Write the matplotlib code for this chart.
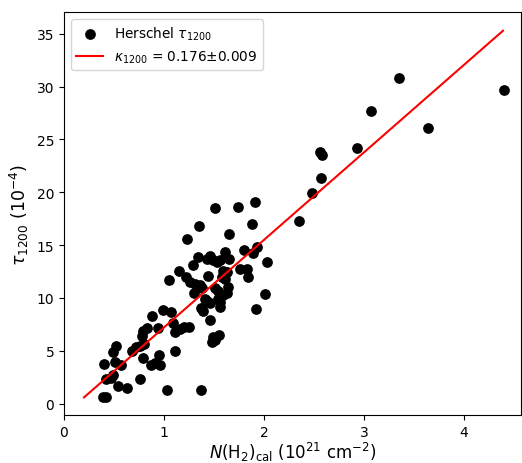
import numpy as np
import matplotlib
matplotlib.use('Agg')
import matplotlib.pyplot as plt

# N(H2)_cal in 1e21 cm^-2 and tau_1200 in 1e-4
nh2 = [0.39, 0.42, 0.54, 0.63, 0.76, 1.03, 1.37, 0.40, 0.42, 0.47,
       0.49, 0.49, 0.52, 0.51, 0.57, 0.68, 0.72, 0.76, 0.80, 0.79,
       0.87, 0.91, 0.96, 0.95, 1.11, 0.78, 0.79, 0.83, 0.88, 0.99,
       1.07, 0.94, 1.09, 1.11, 1.16, 1.20, 1.25, 1.05, 1.15, 1.22,
       1.26, 1.31, 1.30, 1.36, 1.38, 1.34, 1.43, 1.46, 1.49, 1.53,
       1.56, 1.61, 1.65, 1.29, 1.44, 1.51, 1.54, 1.64, 1.63, 1.59,
       1.76, 1.83, 1.84, 1.41, 1.37, 1.39, 1.43, 1.46, 1.46, 1.54,
       1.56, 1.56, 1.49, 1.51, 1.55, 1.48, 1.51, 1.74, 1.91, 1.35,
       1.23, 1.65, 1.88, 2.35, 1.80, 1.89, 1.93, 2.03, 1.59, 1.63,
       1.58, 1.61, 2.01, 1.92, 3.64, 2.56, 2.58, 2.93, 2.57, 2.48,
       3.07, 3.35, 4.40]
tau = [0.6, 0.6, 1.65, 1.5, 2.35, 1.25, 1.25, 3.75, 2.3, 2.4,
       2.7, 4.85, 5.45, 3.95, 3.7, 4.95, 5.4, 5.5, 5.65, 4.3,
       3.7, 3.85, 3.65, 4.65, 5.0, 6.4, 6.9, 7.15, 8.3, 8.9,
       8.7, 7.15, 7.65, 6.8, 7.1, 7.25, 7.25, 11.75, 12.6, 12.0,
       11.5, 11.3, 10.5, 11.2, 10.9, 13.85, 13.7, 14.0, 13.55, 13.4,
       13.55, 14.35, 13.65, 13.1, 12.1, 10.95, 10.7, 11.0, 10.5, 10.25,
       12.75, 12.75, 12.0, 9.9, 9.1, 8.75, 9.75, 9.5, 7.9, 9.95,
       9.6, 9.15, 6.3, 6.0, 6.5, 5.85, 18.5, 18.6, 19.1, 16.8,
       15.6, 16.1, 17.0, 17.3, 14.55, 14.3, 14.8, 13.4, 12.6, 12.45,
       12.0, 11.8, 10.4, 9.0, 26.1, 23.8, 23.5, 24.2, 21.4, 19.9,
       27.65, 30.85, 29.7]

# linear fit drawn in the figure
fit_x = np.array([0.2, 4.39])
fit_slope = 8.28
fit_icpt = -1.06

fig = plt.figure(figsize=(5.22, 4.64), dpi=100)
ax = fig.add_axes([64/522, 1-416/464, 457/522, 403/464])

ax.scatter(nh2, tau, s=45, c='k', label=r'Herschel $\tau_{1200}$')
ax.plot(fit_x, fit_slope*fit_x + fit_icpt, c='r', lw=1.5,
        label=r'$\kappa_{1200}$ = 0.176$\pm$0.009')

ax.set_xlim(0, 4.57)
ax.set_ylim(-1.07, 37.06)
ax.set_xticks([0, 1, 2, 3, 4])
ax.set_yticks([0, 5, 10, 15, 20, 25, 30, 35])
ax.tick_params(labelsize=10)
ax.set_xlabel(r'$N(\mathrm{H}_2)_\mathrm{cal}$ ($10^{21}$ cm$^{-2}$)', fontsize=12, labelpad=1)
ax.set_ylabel(r'$\tau_{1200}$ ($10^{-4}$)', fontsize=12.5)
ax.legend(loc='upper left', scatterpoints=1, fontsize=9.8)

fig.savefig('out.png', dpi=100)
